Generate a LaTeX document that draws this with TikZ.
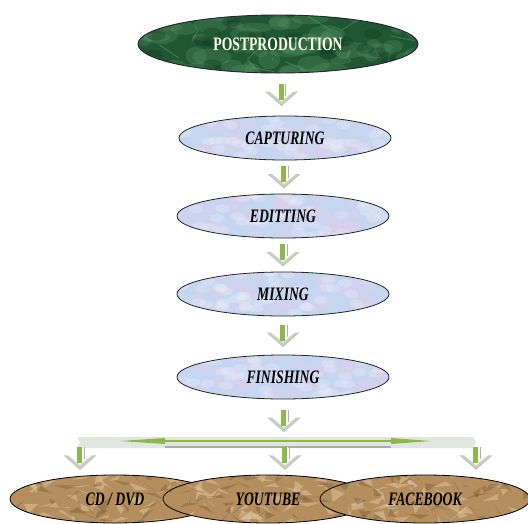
\documentclass[tikz,border=0pt]{standalone}
\usepackage{fontspec}
\setmainfont{Liberation Serif}
\usetikzlibrary{shapes.geometric,calc}
\definecolor{mgreen}{HTML}{1F5634}
\definecolor{mgreenL}{HTML}{5E9A68}
\definecolor{mgreenD}{HTML}{0E3620}
\definecolor{mblue}{HTML}{C6D5F0}
\definecolor{mpink}{HTML}{E2CFEA}
\definecolor{mwhite}{HTML}{EEF2FB}
\definecolor{mbrown}{HTML}{B48E5E}
\definecolor{mbrownD}{HTML}{6E4F2E}
\definecolor{mbrownL}{HTML}{E0C69E}
\definecolor{agreen}{HTML}{8DB84A}
\definecolor{agray}{HTML}{E3E6E0}
\definecolor{headc}{HTML}{C9D2BE}
\newcommand\marbletex{%
  \foreach \i in {1,...,60}{%
    \pgfmathsetmacro\ax{rand*140}\pgfmathsetmacro\ay{rand*30}%
    \pgfmathsetmacro\rx{6+rnd*14}\pgfmathsetmacro\ry{3+rnd*7}%
    \fill[mgreenL, opacity=.28] ([shift={(\ax,\ay)}]path picture bounding box.center)
      ellipse [x radius=\rx, y radius=\ry];
  }%
  \foreach \i in {1,...,25}{%
    \pgfmathsetmacro\ax{rand*140}\pgfmathsetmacro\ay{rand*30}%
    \pgfmathsetmacro\bx{\ax+rand*30}\pgfmathsetmacro\by{\ay+rand*15}%
    \draw[mgreenL!70!white, opacity=.3, line width=1pt]
      ([shift={(\ax,\ay)}]path picture bounding box.center) --
      ([shift={(\bx,\by)}]path picture bounding box.center);
  }%
  \foreach \i in {1,...,25}{%
    \pgfmathsetmacro\ax{rand*140}\pgfmathsetmacro\ay{rand*30}%
    \fill[mgreenD, opacity=.3] ([shift={(\ax,\ay)}]path picture bounding box.center)
      ellipse [x radius=9, y radius=5];
  }%
}
\newcommand\cloudtex{%
  \foreach \i in {1,...,45}{%
    \pgfmathsetmacro\ax{rand*105}\pgfmathsetmacro\ay{rand*22}%
    \fill[mpink, opacity=.3] ([shift={(\ax,\ay)}]path picture bounding box.center)
      ellipse [x radius=9, y radius=5];
  }%
  \foreach \i in {1,...,45}{%
    \pgfmathsetmacro\ax{rand*105}\pgfmathsetmacro\ay{rand*22}%
    \fill[mwhite, opacity=.3] ([shift={(\ax,\ay)}]path picture bounding box.center)
      ellipse [x radius=7, y radius=4];
  }%
}
\newcommand\crumpletex{%
  \foreach \i in {1,...,60}{%
    \pgfmathsetmacro\ax{rand*105}\pgfmathsetmacro\ay{rand*25}%
    \pgfmathsetmacro\bx{\ax+rand*16}\pgfmathsetmacro\by{\ay+rand*10}%
    \pgfmathsetmacro\cx{\ax+rand*16}\pgfmathsetmacro\cy{\ay+rand*10}%
    \fill[mbrownL, opacity=.5]
      ([shift={(\ax,\ay)}]path picture bounding box.center) --
      ([shift={(\bx,\by)}]path picture bounding box.center) --
      ([shift={(\cx,\cy)}]path picture bounding box.center) -- cycle;
  }%
  \foreach \i in {1,...,45}{%
    \pgfmathsetmacro\ax{rand*105}\pgfmathsetmacro\ay{rand*25}%
    \pgfmathsetmacro\bx{\ax+rand*14}\pgfmathsetmacro\by{\ay+rand*9}%
    \pgfmathsetmacro\cx{\ax+rand*14}\pgfmathsetmacro\cy{\ay+rand*9}%
    \fill[mbrownD, opacity=.35]
      ([shift={(\ax,\ay)}]path picture bounding box.center) --
      ([shift={(\bx,\by)}]path picture bounding box.center) --
      ([shift={(\cx,\cy)}]path picture bounding box.center) -- cycle;
  }%
}
\newcommand\sq[1]{\scalebox{0.72}[1]{#1}}
\begin{document}
\begin{tikzpicture}[x=1pt,y=-1pt,
  txt/.style={font=\fontsize{19}{19}\selectfont\bfseries\itshape},
  postnode/.style={ellipse, draw=black!85, line width=.9pt, fill=mgreen,
    minimum width=280pt, minimum height=58pt, inner sep=0pt,
    text=white!92!yellow, font=\fontsize{19}{19}\selectfont\bfseries,
    path picture={\marbletex}},
  stepnode/.style={ellipse, draw=black!85, line width=.8pt, fill=mblue,
    minimum width=212pt, minimum height=44pt, inner sep=0pt, txt,
    path picture={\cloudtex}},
  outnode/.style={ellipse, draw=black, line width=.8pt, fill=mbrown,
    minimum width=210pt, minimum height=48pt, inner sep=0pt, txt,
    path picture={\crumpletex}},
  darrow/.pic={
    \fill[headc] (-16,-3) -- (0,11) -- (16,-3) -- (12,-3) -- (0,7) -- (-12,-3) -- cycle;
    \draw[gray!55, line width=.6pt] (-16,-3) -- (0,11) -- (16,-3);
    \fill[agreen] (-3,-11) rectangle (2,5);
    \fill[white] (2,-11) rectangle (3,3);
    \draw[gray!60, line width=.7pt] (4,-11) -- (4,1);
  }
]
\pgfmathsetseed{7}
\useasboundingbox (0,0) rectangle (528,523);
\fill[white] (0,0) rectangle (528,523);

\node[postnode] (post) at (278,44) {\sq{POSTPRODUCTION}};
\node[stepnode] (cap) at (285,138) {\sq{CAPTURING}};
\node[stepnode] (edit) at (283,216) {\sq{EDITTING}};
\node[stepnode] (mix) at (283,294) {\sq{MIXING}};
\node[stepnode] (fin) at (283,377) {\sq{FINISHING}};

\coordinate (hub) at (285,442);
\coordinate (hl) at (80,442);
\coordinate (hr) at (476,442);

% horizontal double arrow bar
\fill[agray] ($(hl)+(-3,-5)$) -- ($(hr)+(-3,-5)$) -- ($(hr)+(0,0)$) -- ($(hr)+(-3,6)$)
  -- ($(hl)+(-3,6)$) -- ($(hl)+(0,0)$) -- cycle;
\draw[gray!65, line width=1.8pt] ($(hl)+(85,5)$) -- ($(hr)+(-85,5)$);
\draw[agreen, line width=1.2pt] ($(hl)+(85,-1)$) -- ($(hr)+(-85,-1)$);
\fill[agreen] ($(hl)+(40,-1)$) -- ($(hl)+(85,-4)$) -- ($(hl)+(85,2)$) -- cycle;
\fill[agreen] ($(hr)+(-45,-1)$) -- ($(hr)+(-85,-4)$) -- ($(hr)+(-85,2)$) -- cycle;

\node[outnode] (cd) at (115,499) {\sq{CD / DVD}};
\node[outnode] (yt) at (268,499) {\sq{YOUTUBE}};
\node[outnode] (fb) at (425,499) {\sq{FACEBOOK}};

\pic at ($(post.south)!.5!(cap.north)$) {darrow};
\pic at ($(cap.south)!.5!(edit.north)$) {darrow};
\pic at ($(edit.south)!.5!(mix.north)$) {darrow};
\pic at ($(mix.south)!.5!(fin.north)$) {darrow};
\pic at ($(fin.south)!.5!(hub)$) {darrow};
\pic at ($(hl)!.5!(hl |- cd.north)$) {darrow};
\pic at ($(hub)!.5!(hub |- yt.north)$) {darrow};
\pic at ($(hr)!.5!(hr |- fb.north)$) {darrow};
\end{tikzpicture}
\end{document}
